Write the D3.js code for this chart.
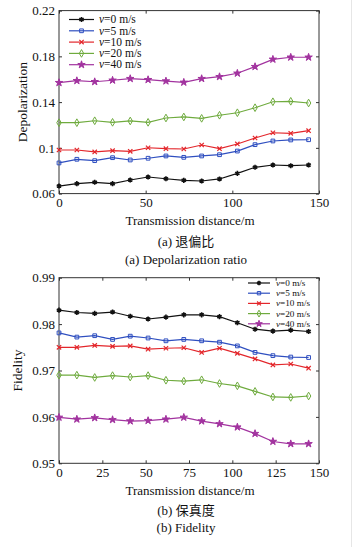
<!DOCTYPE html>
<html><head><meta charset="utf-8">
<script src="https://cdn.jsdelivr.net/npm/d3@7"></script>
<style>
html,body{margin:0;padding:0;background:#fff;}
svg{display:block;}
text{font-family:"Liberation Serif","Noto Sans CJK SC",serif;fill:#111;}
</style></head>
<body>
<svg id="c" width="358" height="547"></svg>
<script>
// ---- data ----
const distance = [0,10.3,20.6,30.9,41.1,51.4,61.7,72,82.3,92.6,102.9,113.1,123.4,133.7,144];
const seriesNames = ["v=0 m/s","v=5 m/s","v=10 m/s","v=20 m/s","v=40 m/s"];
const depol_v0  = [0.0666,0.0687,0.0699,0.0687,0.0719,0.0745,0.0730,0.0716,0.0710,0.0728,0.0777,0.0830,0.0850,0.0844,0.0850];
const depol_v5  = [0.0868,0.0900,0.0888,0.0914,0.0894,0.0909,0.0929,0.0917,0.0929,0.0940,0.0972,0.1028,0.1060,0.1069,0.1071];
const depol_v10 = [0.0981,0.0981,0.0964,0.0975,0.0970,0.1001,0.0993,0.0990,0.1025,0.0993,0.1034,0.1086,0.1132,0.1127,0.1150];
const depol_v20 = [0.1220,0.1220,0.1237,0.1223,0.1235,0.1223,0.1261,0.1270,0.1258,0.1285,0.1307,0.1351,0.1403,0.1407,0.1392];
const depol_v40 = [0.1570,0.1587,0.1578,0.1591,0.1605,0.1596,0.1584,0.1573,0.1605,0.1622,0.1652,0.1710,0.1774,0.1792,0.1792];
const fid_v0  = [0.9830,0.9825,0.9823,0.9826,0.9817,0.9811,0.9815,0.9820,0.9820,0.9816,0.9803,0.9789,0.9785,0.9787,0.9784];
const fid_v5  = [0.9781,0.9772,0.9775,0.9767,0.9774,0.9770,0.9764,0.9767,0.9764,0.9761,0.9753,0.9739,0.9732,0.9729,0.9728];
const fid_v10 = [0.9750,0.9750,0.9754,0.9752,0.9753,0.9746,0.9748,0.9749,0.9739,0.9748,0.9737,0.9725,0.9712,0.9714,0.9705];
const fid_v20 = [0.9690,0.9690,0.9685,0.9689,0.9686,0.9689,0.9679,0.9677,0.9680,0.9672,0.9667,0.9655,0.9643,0.9642,0.9645];
const fid_v40 = [0.9599,0.9595,0.9598,0.9594,0.9591,0.9592,0.9595,0.9599,0.9591,0.9585,0.9578,0.9564,0.9547,0.9542,0.9542];
const depolYTicks = [0.06,0.1,0.14,0.18,0.22];
const depolYLabels = ["0.06","0.1","0.14","0.18","0.22"];
const depolXTicks = [0,50,100,150];
const fidYTicks = [0.95,0.96,0.97,0.98,0.99];
const fidYLabels = ["0.95","0.96","0.97","0.98","0.99"];
const fidXTicks = [0,25,50,75,100,125,150];

// ---- styles ----
const colors = ["#111111","#2f4fc0","#e3262b","#6fab3e","#a2339f"];
const markers = ["asterisk","square","times","diamond","star"];

const svg = d3.select("#c");
svg.append("line").attr("x1",351.5).attr("x2",351.5).attr("y1",0).attr("y2",547)
  .attr("stroke","#e6e6e6").attr("stroke-width",1);

function marker(g, type, color, x, y, scale){
  scale = scale || 1;
  let sym, size, fill="none", sw=1;
  if(type==="asterisk"){ sym=d3.symbolAsterisk; size=18; sw=1.6; }
  else if(type==="square"){ sym=d3.symbolSquare; size=14; }
  else if(type==="times"){ sym=d3.symbolTimes; size=14; sw=1.2; }
  else if(type==="diamond"){ sym=d3.symbolDiamond; size=17; }
  else { sym=d3.symbolStar; size=17; fill=color; }
  g.append("path").attr("d", d3.symbol().type(sym).size(size*scale)())
    .attr("transform",`translate(${x},${y})`)
    .attr("fill", fill==="none" ? "#fff" : fill).attr("fill-opacity", fill==="none"?0:1)
    .attr("stroke",color).attr("stroke-width",sw);
}

function panel(opts){
  const x = d3.scaleLinear().domain([0,150]).range([59,319]);
  const y = d3.scaleLinear().domain(opts.yDomain).range([opts.yBottom, opts.yTop]);
  const g = svg.append("g");
  const fmt = d => opts.yLabels[opts.yTicks.indexOf(d)];
  const axL = d3.axisLeft(y).tickValues(opts.yTicks).tickFormat(fmt).tickSizeInner(-3).tickSizeOuter(0).tickPadding(4);
  const axR = d3.axisRight(y).tickValues(opts.yTicks).tickFormat("").tickSizeInner(-3).tickSizeOuter(0);
  const axB = d3.axisBottom(x).tickValues(opts.xTicks).tickFormat(d3.format("d")).tickSizeInner(-3).tickSizeOuter(0).tickPadding(4);
  const axT = d3.axisTop(x).tickValues(opts.xTicks).tickFormat("").tickSizeInner(-3).tickSizeOuter(0);
  [[axL,`translate(59,0)`],[axR,`translate(319,0)`],[axB,`translate(0,${opts.yBottom})`],[axT,`translate(0,${opts.yTop})`]]
   .forEach(([ax,tr])=>{
     const a = g.append("g").attr("transform",tr).call(ax);
     a.select(".domain").remove();
     a.selectAll("line").attr("stroke","#333");
     a.selectAll("text").attr("font-size",13).attr("font-family","Liberation Serif").attr("fill","#111");
   });
  g.append("rect").attr("x",59).attr("y",opts.yTop).attr("width",260).attr("height",opts.yBottom-opts.yTop)
    .attr("fill","none").attr("stroke","#333").attr("stroke-width",1);
  const line = d3.line().x((d,i)=>x(distance[i])).y(d=>y(d));
  opts.series.forEach((s,k)=>{
    g.append("path").datum(s).attr("d",line).attr("fill","none").attr("stroke",colors[k]).attr("stroke-width",1.2);
    s.forEach((v,i)=>marker(g, markers[k], colors[k], x(distance[i]), y(v)));
  });
  seriesNames.forEach((n,k)=>{
    const ly = opts.legY + k*opts.legDy;
    g.append("line").attr("x1",opts.legX).attr("x2",opts.legX+opts.legLen).attr("y1",ly).attr("y2",ly)
      .attr("stroke",colors[k]).attr("stroke-width",1.2);
    marker(g, markers[k], colors[k], opts.legX+opts.legLen/2, ly, opts.legMk);
    const t = g.append("text").attr("x",opts.legX+opts.legLen+opts.legGap).attr("y",ly+opts.legFont*0.33).attr("font-size",opts.legFont);
    t.append("tspan").attr("font-style","italic").text(n.split("=")[0]);
    t.append("tspan").text("="+n.split("=")[1]);
  });
  g.append("text").attr("transform",`translate(${opts.yLabX},${(opts.yTop+opts.yBottom)/2}) rotate(-90)`)
    .attr("text-anchor","middle").attr("font-size",13.5).text(opts.yTitle);
  g.append("text").attr("x",190).attr("y",opts.xTitleY).attr("text-anchor","middle").attr("font-size",13).text("Transmission distance/m");
  g.append("text").attr("x",186).attr("y",opts.cap1Y).attr("text-anchor","middle").attr("font-size",13).text(opts.cap1);
  g.append("text").attr("x",186).attr("y",opts.cap2Y).attr("text-anchor","middle").attr("font-size",13).text(opts.cap2);
}

panel({yDomain:[0.06,0.22], yTop:10.6, yBottom:193.6, yTicks:depolYTicks, yLabels:depolYLabels, xTicks:depolXTicks,
  series:[depol_v0,depol_v5,depol_v10,depol_v20,depol_v40],
  legX:69, legLen:25, legGap:5, legY:19.5, legDy:11.3, legFont:11.5, legMk:1,
  yLabX:26.5, yTitle:"Depolarization", xTitleY:225, cap1:"(a) 退偏比", cap1Y:246, cap2:"(a) Depolarization ratio", cap2Y:263.5});

panel({yDomain:[0.95,0.99], yTop:277.7, yBottom:463.3, yTicks:fidYTicks, yLabels:fidYLabels, xTicks:fidXTicks,
  series:[fid_v0,fid_v5,fid_v10,fid_v20,fid_v40],
  legX:248, legLen:22, legGap:6, legY:283, legDy:10.2, legFont:9.2, legMk:0.8,
  yLabX:21.5, yTitle:"Fidelity", xTitleY:495, cap1:"(b) 保真度", cap1Y:515, cap2:"(b) Fidelity", cap2Y:531.5});
</script>
</body></html>
